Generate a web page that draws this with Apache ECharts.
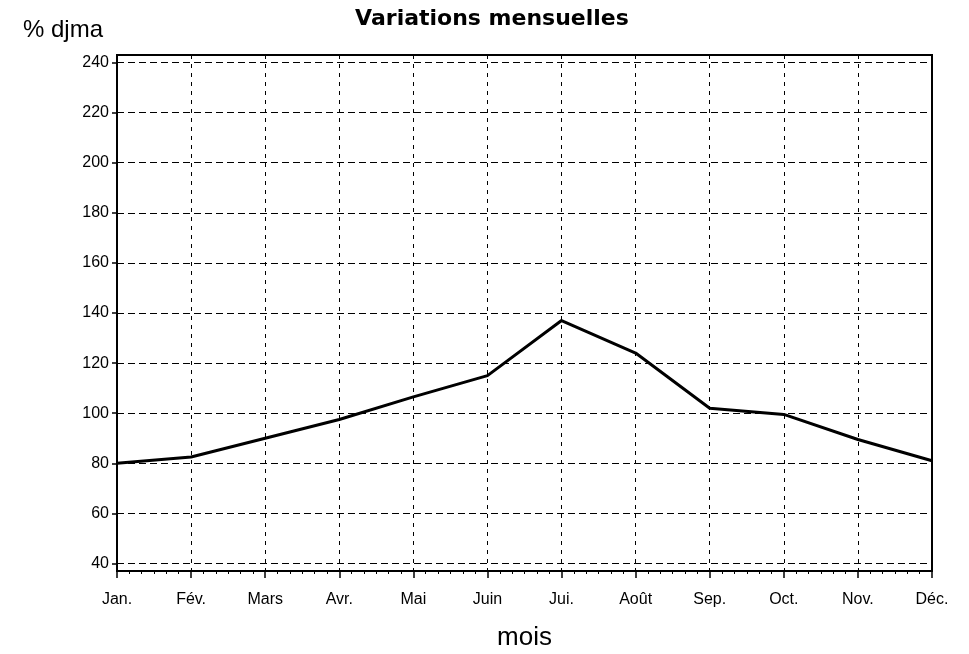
<!DOCTYPE html>
<html>
<head>
<meta charset="utf-8">
<script src="https://cdn.jsdelivr.net/npm/echarts@6/dist/echarts.min.js"></script>
<style>
  html, body { margin: 0; padding: 0; background: #fff; }
  #chart { width: 969px; height: 654px; }
</style>
</head>
<body>
<div id="chart"></div>
<script>
  // mois
  var months = ['Jan.', 'Fév.', 'Mars', 'Avr.', 'Mai', 'Juin', 'Jui.', 'Août', 'Sep.', 'Oct.', 'Nov.', 'Déc.'];
  // % djma
  var djma = [80, 82.5, 90, 97.5, 106.5, 115, 137, 124, 102, 99.5, 89.5, 81];
  var yTicks = [40, 60, 80, 100, 120, 140, 160, 180, 200, 220, 240];

  var font = '"Liberation Sans", Arial, sans-serif';
  var chart = echarts.init(document.getElementById('chart'));

  chart.setOption({
    animation: false,
    backgroundColor: '#fff',
    title: {
      text: 'Variations mensuelles',
      left: 487,
      textAlign: 'center',
      top: 3,
      textStyle: { fontFamily: '"DejaVu Sans", sans-serif', fontSize: 22, fontWeight: 'bold', color: '#000' }
    },
    grid: {
      left: 117, right: 37, top: 55, bottom: 83,
      outerBoundsMode: 'none',
      containLabel: false,
      show: true, borderColor: '#000', borderWidth: 2, backgroundColor: 'transparent'
    },
    xAxis: [{
      type: 'category',
      data: months,
      boundaryGap: false,
      name: 'mois',
      nameLocation: 'middle',
      nameGap: 54,
      nameTextStyle: { fontFamily: font, fontSize: 26, color: '#000' },
      axisLine: { lineStyle: { color: '#000', width: 2 } },
      axisTick: { show: true, length: 7, alignWithLabel: true, lineStyle: { color: '#000', width: 1.5 } },
      axisLabel: { color: '#000', fontFamily: font, fontSize: 16, margin: 21 },
      splitLine: { show: true, lineStyle: { color: '#000', width: 1, type: [4, 5] } }
    }, {
      // only carries the small ticks between the months
      type: 'value',
      position: 'bottom',
      min: 0,
      max: 11,
      interval: 1,
      axisLine: { show: false },
      axisTick: { show: false },
      axisLabel: { show: false },
      splitLine: { show: false },
      minorTick: { show: true, splitNumber: 6, length: 3, lineStyle: { color: '#000', width: 1 } }
    }],
    yAxis: {
      type: 'value',
      min: 37,
      max: 243,
      name: '% djma',
      nameLocation: 'end',
      nameGap: 13,
      nameTextStyle: { fontFamily: font, fontSize: 24, color: '#000', align: 'right', padding: [0, 14, 0, 0] },
      axisLine: { show: true, lineStyle: { color: '#000', width: 2 } },
      axisTick: { show: true, length: 5, customValues: yTicks, lineStyle: { color: '#000', width: 1.5 } },
      axisLabel: { color: '#000', fontFamily: font, fontSize: 16, margin: 8, customValues: yTicks },
      splitLine: { show: true, lineStyle: { color: '#000', width: 1, type: [7, 4] } }
    },
    series: [{
      type: 'line',
      data: djma,
      symbol: 'none',
      lineStyle: { color: '#000', width: 3 }
    }]
  });
</script>
</body>
</html>
